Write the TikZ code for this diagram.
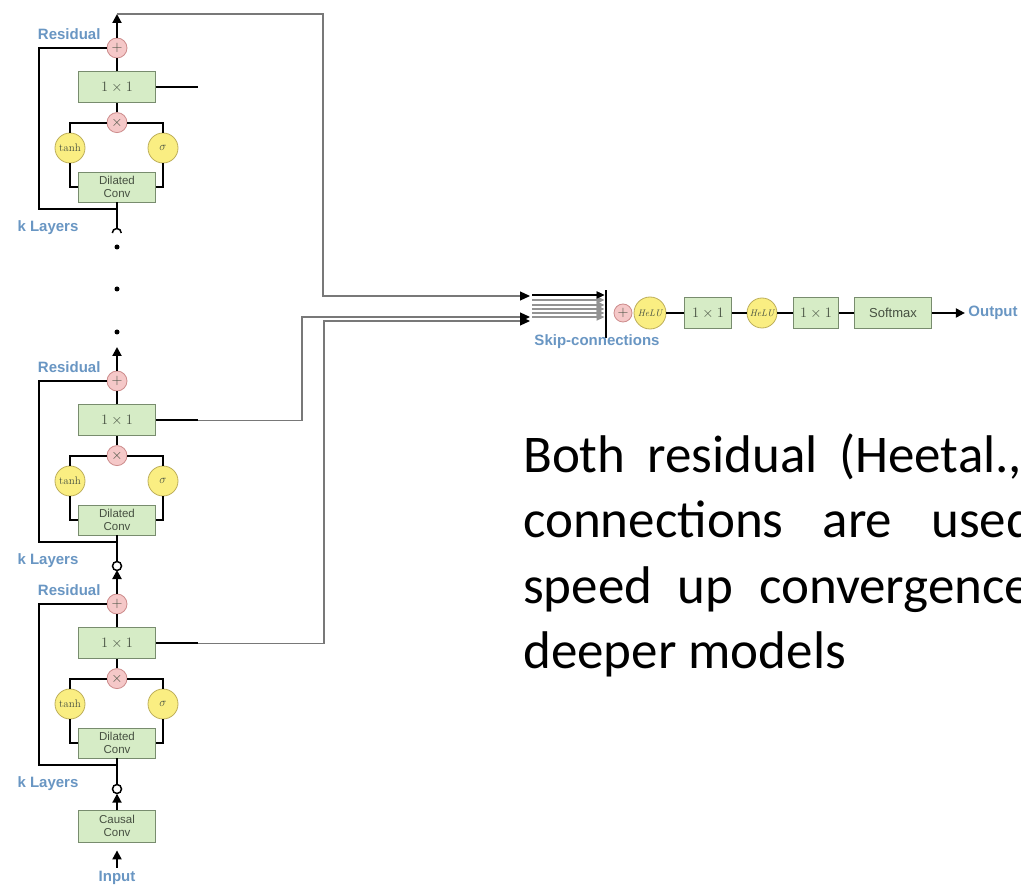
\documentclass[tikz,border=0pt]{standalone}
\usepackage{fontspec}
\newfontfamily\labelfont{Liberation Sans}
\newfontfamily\bodyfont{Carlito}
\usepackage{xcolor}
\definecolor{boxfill}{RGB}{214,236,198}
\definecolor{boxline}{RGB}{120,140,110}
\definecolor{boxtext}{RGB}{70,80,65}
\definecolor{pinkfill}{RGB}{245,200,200}
\definecolor{pinkline}{RGB}{205,140,140}
\definecolor{yelfill}{RGB}{250,238,130}
\definecolor{yelline}{RGB}{190,175,90}
\definecolor{lblblue}{RGB}{105,150,195}
\definecolor{skipgray}{RGB}{120,120,120}
\usetikzlibrary{arrows.meta, positioning}

\begin{document}
\begin{tikzpicture}[x=1pt, y=1pt,
    box/.style={draw=boxline, fill=boxfill, line width=0.8pt, inner sep=0pt,
                minimum width=77pt, minimum height=31pt, text=boxtext,
                font=\fontsize{15}{17}\selectfont},
    boxtxt/.style={font=\labelfont\fontsize{11.5}{13}\selectfont, align=center},
    addc/.style={circle, draw=pinkline, fill=pinkfill, line width=0.8pt, inner sep=0pt,
                 minimum size=20pt, text=boxtext, font=\fontsize{14}{16}\selectfont},
    gate/.style={circle, draw=yelline, fill=yelfill, line width=0.8pt, inner sep=0pt,
                 minimum size=30pt, text=boxtext, font=\fontsize{11}{13}\selectfont},
    lbl/.style={font=\labelfont\bfseries\fontsize{15}{17}\selectfont, text=lblblue},
    hop/.style={circle, inner sep=0pt, minimum size=9pt},
    wire/.style={line width=2pt},
    arr/.style={wire, -{Triangle[length=9pt,width=9pt]}},
    skipw/.style={line width=1.2pt, draw=skipgray, -{Triangle[length=10pt,width=9pt,color=black]}},
    bunch/.style={line width=2pt, draw=skipgray!80, -{Triangle[length=8pt,width=7pt]}}
  ]
  \clip (0,0) rectangle (1021,-885);
  \fill[white] (0,0) rectangle (1021,-885);

  % residual stacks
  \foreach \i/\p in {1/48, 2/381, 3/604} {
    \node[addc] (add\i) at (117,-\p) {$+$};
    \node[box] (mix\i) [below=13pt of add\i] {$1\times1$};
    \node[addc] (mul\i) [below=9pt of mix\i] {$\times$};
    \node[gate] (tanh\i) at (70,-\p-100) {tanh};
    \node[gate, font=\fontsize{13}{15}\selectfont] (sig\i) at (163,-\p-100) {$\sigma$};
    \node[box, boxtxt, minimum height=30pt] (dil\i) at (117,-\p-139) {Dilated\\Conv};
    \node[lbl, anchor=east] (res\i) at (104,-\p+14) {Residual};
    \node[lbl, anchor=west] (kl\i) at (14,-\p-180) {k Layers};
    \node[hop] (in\i) at (117,-\p-185) {};
    \coordinate (j\i) at (117,-\p-161);
    \coordinate (o\i) at (117,-\p+34);
    \draw[wire] (dil\i.south) -- (j\i) -- (in\i.north);
    \draw[wire] (j\i) -- ++(-78,0) |- (add\i.west);
    \draw[wire] (tanh\i.south) |- (dil\i.west);
    \draw[wire] (sig\i.south) |- (dil\i.east);
    \draw[wire] (tanh\i.north) |- (mul\i.west);
    \draw[wire] (sig\i.north) |- (mul\i.east);
    \draw[wire] (mul\i) -- (mix\i);
    \draw[wire] (mix\i) -- (add\i);
    \draw[arr] (add\i) -- (o\i);
    \draw[wire] (mix\i.east) -- ++(42,0) coordinate (s\i);
  }
  \draw[line width=1.5pt] (in1.west) arc[start angle=180, end angle=0, radius=4.5pt];
  \foreach \i in {2,3}
    \draw[line width=1.5pt, fill=white] (in\i) circle (4.5pt);
  \foreach \y in {247,289,332}
    \fill (117,-\y) circle (2.5pt);

  % input
  \node[box, boxtxt, minimum height=32pt] (causal) at (117,-826) {Causal\\Conv};
  \node[lbl] (input) at (117,-878) {Input};
  \draw[arr] (causal) -- (in3);
  \draw[arr, shorten >=8pt] (input) -- (causal);

  % skip connections
  \coordinate (t1) at (323,-14);
  \coordinate (k2) at (302,-317);
  \coordinate (k3) at (324,-321);
  \coordinate (ar1) at (530,-296);
  \coordinate (ar2) at (530,-317);
  \coordinate (ar3) at (530,-321);
  \draw[skipw] (o1) -- (t1) |- (ar1);
  \draw[skipw] (s2) -| (k2) -- (ar2);
  \draw[skipw] (s3) -| (k3) -- (ar3);

  \node[fill=black, inner sep=0pt, minimum width=2.5pt, minimum height=48pt] (bar) at (606,-314) {};
  \foreach \y [count=\n] in {295,300,305,309,313,317} {
    \coordinate (fa\n) at (532,-\y);
    \coordinate (fb\n) at (bar.west |- fa\n);
    \draw[bunch] (fa\n) -- (fb\n);
  }
  \draw[line width=2pt, -{Triangle[length=8pt,width=7pt]}] (fa1) -- (fb1);

  % output chain
  \node[addc, minimum size=18pt] (sum) at (623,-313) {$+$};
  \node[gate, minimum size=32pt, font=\fontsize{9.5}{11}\selectfont\itshape] (relu1) at (650,-313) {HeLU};
  \node[box, minimum width=47pt] (mixa) at (708,-313) {$1\times1$};
  \node[gate, font=\fontsize{9.5}{11}\selectfont\itshape] (relu2) at (762,-313) {HeLU};
  \node[box, minimum width=45pt] (mixb) at (816,-313) {$1\times1$};
  \node[box, boxtxt, font=\labelfont\fontsize{13}{15}\selectfont] (soft) at (893,-313) {Softmax};
  \node[lbl] (out) at (993,-313) {Output};
  \node[lbl] (skiplbl) at (597,-342) {Skip-connections};
  \draw[wire] (relu1) -- (mixa);
  \draw[wire] (mixa) -- (relu2);
  \draw[wire] (relu2) -- (mixb);
  \draw[wire] (mixb) -- (soft);
  \draw[arr] (soft) -- (out);

  % text
  \begin{scope}[every node/.style={anchor=base west, inner sep=0pt,
      font=\bodyfont\fontsize{53}{65}\selectfont}]
    \node (ln1) at (523,-472) {\makebox[499pt][s]{Both residual (Heetal.,}};
    \node (ln2) at (523,-537) {\makebox[511pt][s]{connections are used}};
    \node (ln3) at (523,-603) {\makebox[508pt][s]{speed up convergence}};
    \node (ln4) at (523,-668) {deeper models};
  \end{scope}
\end{tikzpicture}
\end{document}
